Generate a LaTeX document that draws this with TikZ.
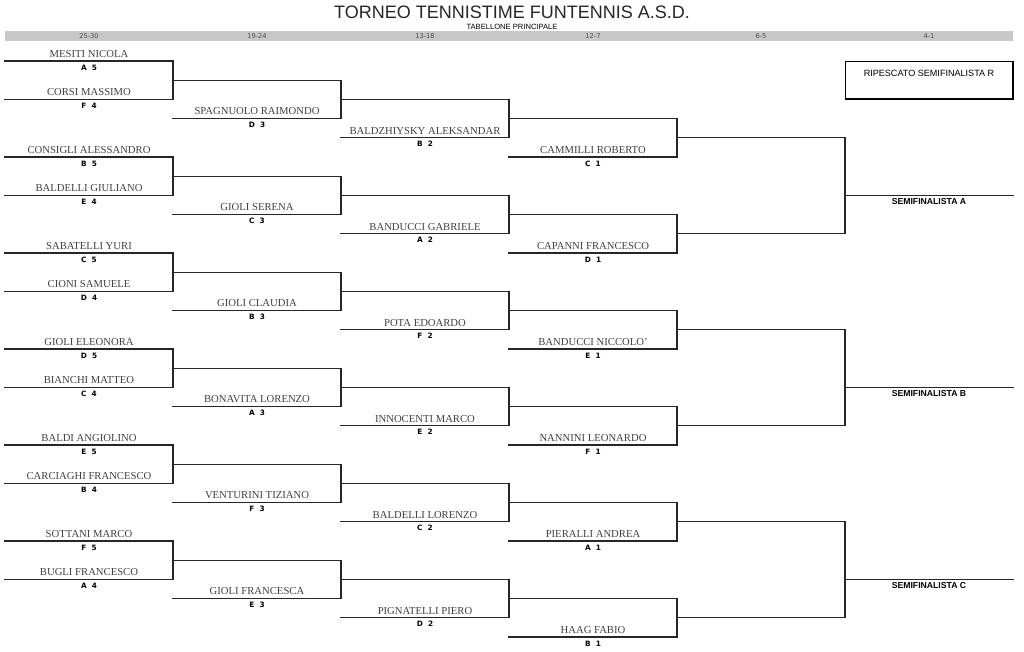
\documentclass[tikz,border=0pt]{standalone}
\usepackage{fontspec}
\setmainfont{Liberation Serif}
\newfontfamily\titlefont{Liberation Sans}
\newfontfamily\codefont[WordSpace=2]{DejaVu Sans}
\usetikzlibrary{calc}

\tikzset{
  bline/.style={line width=0.9pt, draw=black!85, line cap=rect},
  pname/.style={above=2.5pt, inner sep=0pt, text=black!75, font=\fontsize{8}{9}\selectfont},
  pcode/.style={below=2.6pt, inner sep=0pt, font=\codefont\bfseries\fontsize{5.5}{6}\selectfont},
  colhead/.style={inner sep=0pt, text=black!70, font=\codefont\fontsize{5}{5.5}\selectfont},
  sflabel/.style={below=2.2pt, inner sep=0pt, font=\titlefont\bfseries\fontsize{6.5}{7}\selectfont},
}

% one slot of the draw: line, name above, code below
\newcommand{\entrant}[5]{%
  \coordinate (#1-l) at ({5+168*#2},{61+19.2*(#3)});
  \coordinate (#1-r) at ({173+168*#2},{61+19.2*(#3)});
  \draw[bline] (#1-l) -- (#1-r);
  \node[pname] (#1-name) at ($(#1-l)!.5!(#1-r)$) {#4};
  \node[pcode] (#1-code) at ($(#1-l)!.5!(#1-r)$) {#5};
}
% join two slots and carry the winner to the next column
\newcommand{\winline}[4][.5]{%
  \draw[bline] (#3-r) -- (#4-r);
  \coordinate (#2-l) at ($(#3-r)!#1!(#4-r)$);
  \coordinate (#2-r) at ($(#2-l)+(168,0)$);
  \draw[bline] (#2-l) -- (#2-r);
}

\begin{document}
\begin{tikzpicture}[x=0.75pt, y=-0.75pt]
    \useasboundingbox (0,0) rectangle (1024,651);

    % Title
    \node[text=black!85, font=\titlefont\fontsize{13.5}{15}\selectfont] (title) at (512,12.5) {TORNEO TENNISTIME FUNTENNIS A.S.D.};
    \node[font=\titlefont\fontsize{5.7}{6}\selectfont] (subtitle) at (512,27) {TABELLONE PRINCIPALE};

    % Column header bar
    \fill[black!22] (5,31) rectangle (1013,41);
    \foreach \i/\lab in {0/25-30, 1/19-24, 2/13-18, 3/12-7, 4/6-5, 5/4-1}
        \node[colhead] (head\i) at ({89+168*\i},36) {\lab};

    % Bracket, one block of five rounds per group
    \foreach \g/\pa/\ca/\pb/\cb/\pc/\cc/\pd/\cd/\pe/\ce in {
        0/MESITI NICOLA/A 5/CORSI MASSIMO/F 4/SPAGNUOLO RAIMONDO/D 3/BALDZHIYSKY ALEKSANDAR/B 2/CAMMILLI ROBERTO/C 1,
        1/CONSIGLI ALESSANDRO/B 5/BALDELLI GIULIANO/E 4/GIOLI SERENA/C 3/BANDUCCI GABRIELE/A 2/CAPANNI FRANCESCO/D 1,
        2/SABATELLI YURI/C 5/CIONI SAMUELE/D 4/GIOLI CLAUDIA/B 3/POTA EDOARDO/F 2/BANDUCCI NICCOLO'/E 1,
        3/GIOLI ELEONORA/D 5/BIANCHI MATTEO/C 4/BONAVITA LORENZO/A 3/INNOCENTI MARCO/E 2/NANNINI LEONARDO/F 1,
        4/BALDI ANGIOLINO/E 5/CARCIAGHI FRANCESCO/B 4/VENTURINI TIZIANO/F 3/BALDELLI LORENZO/C 2/PIERALLI ANDREA/A 1,
        5/SOTTANI MARCO/F 5/BUGLI FRANCESCO/A 4/GIOLI FRANCESCA/E 3/PIGNATELLI PIERO/D 2/HAAG FABIO/B 1}
    {
        \pgfmathsetmacro\b{5*\g}
        \entrant{a\g}{0}{\b}{\pa}{\ca}
        \entrant{b\g}{0}{\b+2}{\pb}{\cb}
        \winline{w1\g}{a\g}{b\g}
        \entrant{c\g}{1}{\b+3}{\pc}{\cc}
        \winline{w2\g}{w1\g}{c\g}
        \entrant{d\g}{2}{\b+4}{\pd}{\cd}
        \winline{w3\g}{w2\g}{d\g}
        \entrant{e\g}{3}{\b+5}{\pe}{\ce}
        \winline{w4\g}{w3\g}{e\g}
    }

    % Semifinalists
    \winline[.6]{sfa}{w40}{w41}
    \winline[.6]{sfb}{w42}{w43}
    \winline[.6]{sfc}{w44}{w45}
    \node[sflabel] (sfa-t) at ($(sfa-l)!.5!(sfa-r)$) {SEMIFINALISTA A};
    \node[sflabel] (sfb-t) at ($(sfb-l)!.5!(sfb-r)$) {SEMIFINALISTA B};
    \node[sflabel] (sfc-t) at ($(sfc-l)!.5!(sfc-r)$) {SEMIFINALISTA C};

    % Repechage box
    \coordinate (rip-nw) at (845,61);
    \coordinate (rip-se) at (1013,99.4);
    \draw[line width=0.7pt] (rip-nw) rectangle (rip-se);
    \draw[line width=1.5pt] (rip-nw |- rip-se) -- (rip-se) -- (rip-se |- rip-nw);
    \node[font=\titlefont\fontsize{6.8}{7}\selectfont] (rip) at (929,73) {RIPESCATO SEMIFINALISTA R};

\end{tikzpicture}
\end{document}
